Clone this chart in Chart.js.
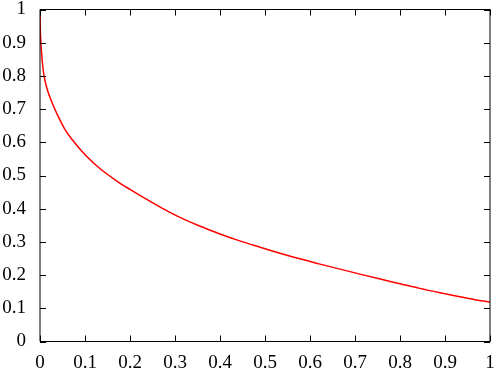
<!DOCTYPE html>
<html lang="en">
<head>
  <meta charset="UTF-8">
  <title>Curve</title>
  <script src="https://cdn.jsdelivr.net/npm/chart.js"></script>
  <style>
    body {
      margin: 0;
      background: #fff;
    }
    canvas {
      display: block;
    }
  </style>
</head>
<body>

<canvas id="chart" width="498" height="371"></canvas>

<script>
  // curve points
  const xValues = [0, 0.0005, 0.002, 0.005, 0.009, 0.016, 0.026, 0.037, 0.055, 0.078, 0.104, 0.133, 0.17,
    0.2, 0.222, 0.267, 0.311, 0.356, 0.4, 0.444, 0.489, 0.533, 0.578, 0.622, 0.667, 0.711, 0.756,
    0.8, 0.844, 0.889, 0.933, 0.967, 1];
  const yValues = [1, 0.95, 0.9, 0.845, 0.8, 0.76, 0.722, 0.688, 0.64, 0.597, 0.557, 0.521, 0.484,
    0.458, 0.44, 0.405, 0.374, 0.347, 0.324, 0.303, 0.284, 0.266, 0.249, 0.233, 0.218, 0.203, 0.188,
    0.174, 0.16, 0.147, 0.135, 0.126, 0.119];

  const xTickLabels = ['0', '0.1', '0.2', '0.3', '0.4', '0.5', '0.6', '0.7', '0.8', '0.9', '1'];
  const yTickLabels = ['0', '0.1', '0.2', '0.3', '0.4', '0.5', '0.6', '0.7', '0.8', '0.9', '1'];

  const points = xValues.map((x, i) => ({ x: x, y: yValues[i] }));

  // frame with inward ticks on all four sides
  const frame = {
    id: 'frame',
    afterDraw(chart) {
      const ctx = chart.ctx;
      const a = chart.chartArea;
      const xs = chart.scales.x;
      const ys = chart.scales.y;
      const len = 6;
      ctx.save();
      ctx.strokeStyle = '#000';
      ctx.lineWidth = 1;
      ctx.beginPath();
      ctx.rect(a.left, a.top, a.right - a.left, a.bottom - a.top);
      xs.ticks.forEach(t => {
        const px = Math.round(xs.getPixelForValue(t.value)) + 0.5;
        ctx.moveTo(px, a.bottom);
        ctx.lineTo(px, a.bottom - len);
        ctx.moveTo(px, a.top);
        ctx.lineTo(px, a.top + len);
      });
      ys.ticks.forEach(t => {
        const py = Math.round(ys.getPixelForValue(t.value)) + 0.5;
        ctx.moveTo(a.left, py);
        ctx.lineTo(a.left + len, py);
        ctx.moveTo(a.right, py);
        ctx.lineTo(a.right - len, py);
      });
      ctx.stroke();
      ctx.restore();
    }
  };

  // keep the plot box where the reference has it
  function noPad(s) {
    s.paddingTop = 0;
    s.paddingBottom = 0;
    s.paddingLeft = 0;
    s.paddingRight = 0;
  }

  Chart.defaults.font.family = "'Liberation Serif', 'DejaVu Serif', serif";
  Chart.defaults.font.size = 19;
  Chart.defaults.color = '#000';

  new Chart(document.getElementById('chart'), {
    type: 'scatter',
    data: {
      datasets: [{
        data: points,
        showLine: true,
        borderColor: '#ff0000',
        borderWidth: 1.5,
        pointRadius: 0,
        cubicInterpolationMode: 'monotone',
        fill: false
      }]
    },
    options: {
      responsive: false,
      animation: false,
      layout: { padding: { top: 9.5, right: 8, left: 0, bottom: 0 } },
      plugins: {
        legend: { display: false },
        tooltip: { enabled: false }
      },
      scales: {
        x: {
          type: 'linear',
          min: 0,
          max: 1,
          grid: { display: false, drawTicks: false },
          border: { display: false },
          afterFit: s => { s.height = 29.5; noPad(s); },
          ticks: {
            stepSize: 0.1,
            padding: 10,
            maxRotation: 0,
            autoSkip: false,
            callback: (v, i) => xTickLabels[i]
          }
        },
        y: {
          type: 'linear',
          min: 0,
          max: 1,
          grid: { display: false, drawTicks: false },
          border: { display: false },
          afterFit: s => { s.width = 40; noPad(s); },
          ticks: {
            stepSize: 0.1,
            padding: 14,
            autoSkip: false,
            callback: (v, i) => yTickLabels[i]
          }
        }
      }
    },
    plugins: [frame]
  });
</script>
</body>
</html>
